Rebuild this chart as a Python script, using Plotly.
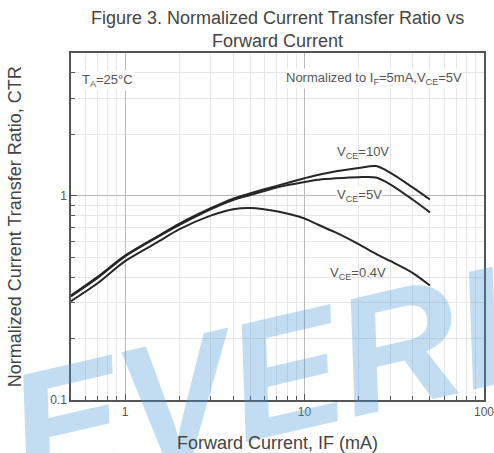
import plotly.graph_objects as go

# Data
IF = [0.5, 0.7, 1, 1.5, 2, 3, 4, 5, 7, 10, 12, 15, 20, 25, 30, 40, 50]
CTR_VCE10 = [0.325, 0.40, 0.51, 0.63, 0.73, 0.87, 0.97, 1.03, 1.12, 1.22, 1.27, 1.32, 1.37, 1.40, 1.30, 1.10, 0.96]
CTR_VCE5 = [0.322, 0.395, 0.505, 0.625, 0.72, 0.86, 0.955, 1.01, 1.10, 1.17, 1.20, 1.22, 1.235, 1.23, 1.14, 0.96, 0.83]
CTR_VCE04 = [0.305, 0.372, 0.479, 0.59, 0.685, 0.80, 0.86, 0.873, 0.84, 0.775, 0.72, 0.66, 0.58, 0.52, 0.48, 0.42, 0.364]

x_ticks = [1, 10, 100]
y_ticks = [0.1, 1]
x_minor = [0.5, 0.6, 0.7, 0.8, 0.9, 2, 3, 4, 5, 6, 7, 8, 9, 20, 30, 40, 50, 60, 70, 80, 90]
y_minor = [0.2, 0.3, 0.4, 0.5, 0.6, 0.7, 0.8, 0.9, 2, 3, 4]

fig = go.Figure()
for ys in (CTR_VCE10, CTR_VCE5, CTR_VCE04):
    fig.add_trace(go.Scatter(x=IF, y=ys, mode="lines", line=dict(color="#262626", width=2, shape="spline", smoothing=0.8),
                             showlegend=False, hoverinfo="skip"))

font = "Liberation Sans, Arial, sans-serif"
txt = "#555555"

fig.update_layout(
    width=494, height=453,
    margin=dict(l=71, r=10, t=53, b=53),
    paper_bgcolor="white", plot_bgcolor="white",
    font=dict(family=font, color=txt, size=12),
)

fig.update_xaxes(type="log", range=[-0.301, 2.0], tickvals=x_ticks, ticktext=["1", "10", "100"],
                 showgrid=True, gridcolor="#b8b8b8", gridwidth=1, automargin=False, ticklabeloverflow="allow",
                 ticks="inside", ticklen=6, tickcolor="#555", tickfont=dict(size=12, color=txt),
                 minor=dict(tickvals=x_minor, showgrid=True, gridcolor="#e6e6e6", ticks="inside", ticklen=4, tickcolor="#555"),
                 showline=True, linecolor="#555555", linewidth=1.5, mirror=True, zeroline=False)
fig.update_yaxes(type="log", range=[-1.0, 0.70], tickvals=y_ticks, ticktext=["0.1", "1"],
                 showgrid=True, gridcolor="#b8b8b8", gridwidth=1, automargin=False,
                 ticks="inside", ticklen=6, tickcolor="#555", tickfont=dict(size=12, color=txt),
                 minor=dict(tickvals=y_minor, showgrid=True, gridcolor="#e6e6e6", ticks="inside", ticklen=4, tickcolor="#555"),
                 showline=True, linecolor="#555555", linewidth=1.5, mirror=True, zeroline=False)

# Watermark
fig.add_annotation(x=-0.2, y=0.21, xref="paper", yref="paper", xanchor="left", yanchor="middle", showarrow=False,
                   text="<b><i>EVERLIGHT</i></b>", textangle=-13,
                   font=dict(family=font, size=168, color="rgba(70,150,215,0.33)"))

fig.add_annotation(x=0.5, y=1.069, xref="paper", yref="paper", yanchor="middle", xanchor="center", showarrow=False,
                   text="Figure 3. Normalized Current Transfer Ratio vs<br>Forward Current",
                   font=dict(family=font, size=18, color="#444444"))
fig.add_annotation(x=0.5, y=-0.125, xref="paper", yref="paper", yanchor="middle", xanchor="center", showarrow=False,
                   text="Forward Current, IF (mA)", font=dict(family=font, size=18, color="#444444"))
fig.add_annotation(x=-0.136, y=0.5, xref="paper", yref="paper", yanchor="middle", xanchor="center", showarrow=False,
                   textangle=-90, text="Normalized Current Transfer Ratio, CTR", font=dict(family=font, size=18, color="#444444"))

ann_font = dict(family=font, size=13, color="#555555")
fig.add_annotation(x=-0.253, y=0.565, xref="x", yref="y", text="T<sub>A</sub>=25°C", showarrow=False,
                   xanchor="left", bgcolor="white", font=ann_font)
fig.add_annotation(x=1.886, y=0.575, xref="x", yref="y", text="Normalized to I<sub>F</sub>=5mA,V<sub>CE</sub>=5V",
                   showarrow=False, xanchor="right", bgcolor="white", font=ann_font)
fig.add_annotation(x=1.325, y=0.215, xref="x", yref="y", text="V<sub>CE</sub>=10V", showarrow=False,
                   xanchor="center", font=ann_font)
fig.add_annotation(x=1.307, y=0.0, xref="x", yref="y", text="V<sub>CE</sub>=5V", showarrow=False,
                   xanchor="center", bgcolor="white", borderpad=0, font=ann_font)
fig.add_annotation(x=1.297, y=-0.38, xref="x", yref="y", text="V<sub>CE</sub>=0.4V", showarrow=False,
                   xanchor="center", font=ann_font)

fig.write_html("out.html", config={"displayModeBar": False}, post_script="document.body.style.margin='0px';")
